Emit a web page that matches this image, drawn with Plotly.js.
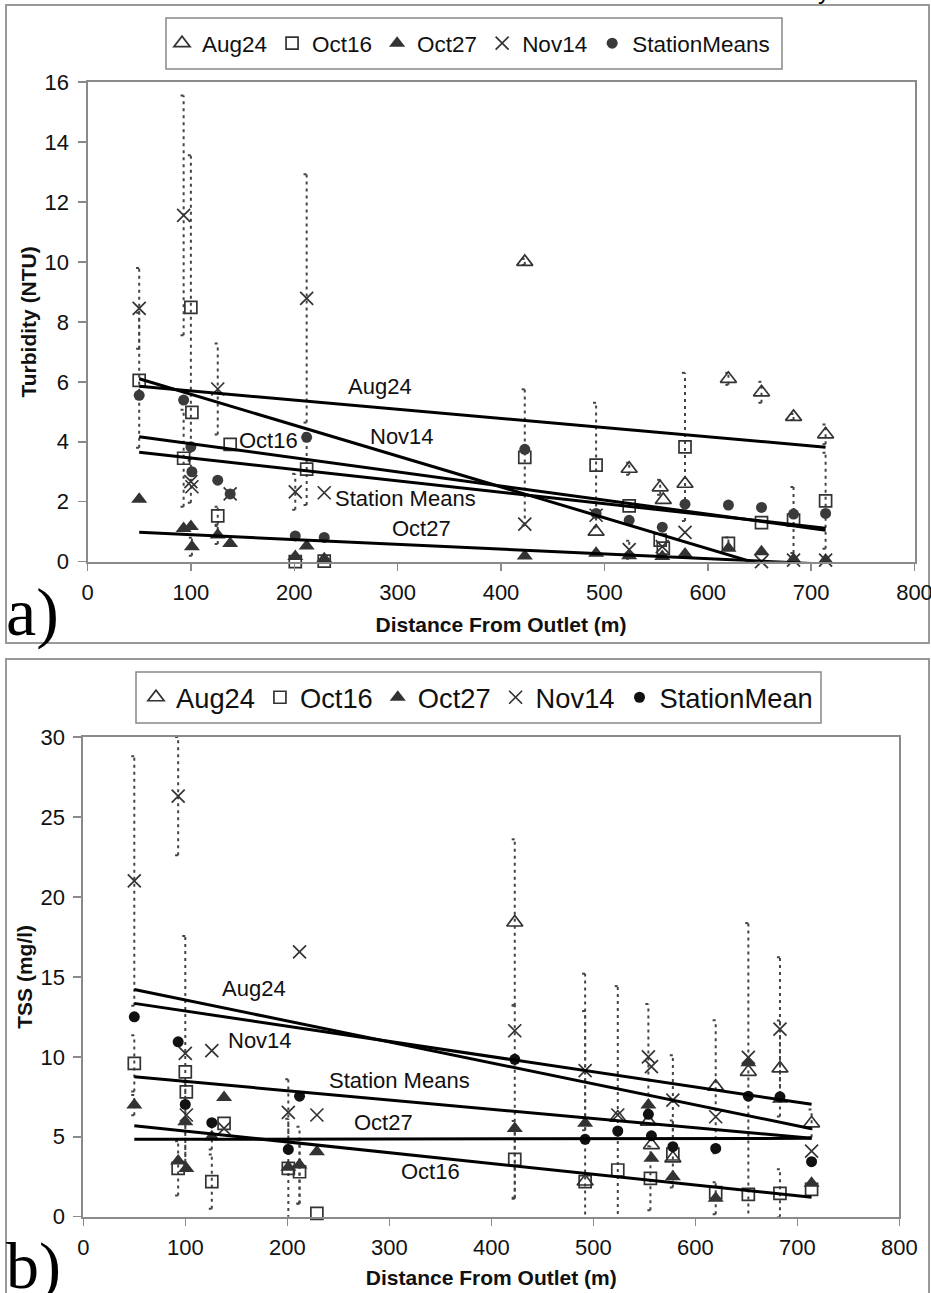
<!DOCTYPE html>
<html><head><meta charset="utf-8">
<script src="https://cdn.plot.ly/plotly-3.0.1.min.js"></script>
<style>html,body{margin:0;padding:0;background:#fff}#chart{width:931px;height:1293px}</style>
</head><body><div id="chart"></div>
<script>
// ================= Panel a: Turbidity (NTU) =================
const aAugX   = [423, 492, 524, 554, 557, 578, 620, 652, 683, 714];
const aAugY   = [10.0, 1.0, 3.1, 2.48, 2.06, 2.6, 6.1, 5.65, 4.83, 4.25];
const aAugErr = [0.1, 0, 0.2, 0.25, 0, 0, 0.2, 0.35, 0.1, 0.33];

const aOct16X   = [50, 93, 100, 101, 126, 138, 201, 212, 229, 423, 492, 524, 554, 557, 578, 620, 652, 683, 714];
const aOct16Y   = [6.05, 3.45, 8.48, 4.98, 1.53, 3.91, 0.0, 3.09, 0.02, 3.48, 3.22, 1.86, 0.72, 0.45, 3.83, 0.61, 1.3, 1.39, 2.03];
const aOct16Err = [2.25, 1.62, 5.08, 0, 0.3, 0, 0, 1.2, 0, 2.27, 2.08, 0, 0, 0, 2.47, 0.2, 0, 1.1, 1.6];

const aOct27X   = [50, 93, 100, 101, 126, 138, 201, 212, 229, 423, 492, 524, 556, 578, 620, 652, 683, 714];
const aOct27Y   = [2.08, 1.11, 1.17, 0.5, 0.89, 0.61, 0.17, 0.52, 0.1, 0.19, 0.28, 0.2, 0.17, 0.26, 0.45, 0.33, 0.08, 0.06];
const aOct27Err = [0, 0, 0, 0.3, 0.3, 0, 0, 0, 0, 0, 0, 0, 0, 0, 0, 0, 0, 0];

const aNov14X   = [50, 93, 100, 101, 126, 138, 201, 212, 229, 423, 492, 524, 556, 578, 652, 683, 714];
const aNov14Y   = [8.45, 11.55, 2.67, 2.5, 5.76, 2.26, 2.33, 8.78, 2.3, 1.25, 1.55, 0.4, 0.5, 0.98, 0.0, 0.05, 0.05];
const aNov14Err = [1.35, 4.0, 0.7, 0, 1.52, 0, 0.6, 4.14, 0, 0, 0, 0.3, 0, 0, 0, 0, 0];

const aMeanX = [50, 93, 100, 101, 126, 138, 201, 212, 229, 423, 492, 524, 556, 578, 620, 652, 683, 714];
const aMeanY = [5.55, 5.39, 3.83, 3.0, 2.72, 2.26, 0.86, 4.15, 0.81, 3.75, 1.61, 1.38, 1.15, 1.92, 1.89, 1.81, 1.59, 1.61];

// trendlines (value at start and end of station range)
const trendX = [50, 714];
const aTrendAug  = [5.85, 3.82];
const aTrendNov  = [6.10, -0.74];
const aTrendOct16 = [4.17, 1.05];
const aTrendMean = [3.65, 1.12];
const aTrendOct27 = [0.98, -0.08];
const aLabelText = ['Aug24', 'Nov14', 'Oct16', 'Station Means', 'Oct27'];
const aLabelX    = [283, 304, 175, 308, 323];
const aLabelY    = [5.83, 4.19, 4.03, 2.12, 1.11];

// ================= Panel b: TSS (mg/l) =================
const bAugX   = [423, 492, 524, 554, 557, 578, 620, 652, 683, 714];
const bAugY   = [18.4, 2.2, 6.2, 5.94, 4.48, 3.65, 8.13, 9.06, 9.27, 5.84];
const bAugErr = [5.2, 13.0, 0, 0, 0, 0, 4.16, 9.3, 3.0, 0.87];

const bOct16X   = [50, 93, 100, 101, 126, 138, 201, 212, 229, 423, 492, 524, 556, 578, 620, 652, 683, 714];
const bOct16Y   = [9.59, 3.02, 9.06, 7.81, 2.19, 5.84, 3.02, 2.81, 0.21, 3.59, 2.19, 2.92, 2.4, 3.92, 1.5, 1.4, 1.46, 1.71];
const bOct16Err = [1.76, 1.7, 0, 0, 1.7, 0, 3.1, 2.0, 0, 2.4, 0, 11.5, 2.0, 2.1, 0, 0, 1.5, 0];

const bOct27X   = [50, 93, 100, 101, 126, 138, 201, 212, 229, 423, 492, 554, 557, 578, 620, 652, 683, 714];
const bOct27Y   = [6.98, 3.48, 5.94, 3.02, 5.0, 7.46, 3.1, 3.23, 4.06, 5.52, 5.84, 6.98, 3.65, 2.5, 1.15, 9.63, 7.34, 2.09];
const bOct27Err = [0.63, 0, 2.5, 0, 0.8, 0, 0, 2.4, 0, 4.4, 0, 0, 0, 0, 1.0, 0, 0, 0];

const bNov14X   = [50, 93, 100, 101, 126, 138, 201, 212, 229, 423, 492, 524, 554, 557, 578, 620, 652, 683, 714];
const bNov14Y   = [21.0, 26.3, 10.21, 6.36, 10.38, 5.52, 6.52, 16.56, 6.36, 11.63, 9.13, 6.36, 10.0, 9.38, 7.29, 6.25, 9.96, 11.73, 4.1];
const bNov14Err = [7.8, 3.7, 7.35, 0, 0, 0, 2.07, 0, 0, 1.6, 3.73, 0, 3.3, 0, 2.8, 0, 0, 4.5, 0];

const bMeanX = [50, 93, 100, 126, 201, 212, 423, 492, 524, 554, 557, 578, 620, 652, 683, 714];
const bMeanY = [12.5, 10.94, 7.02, 5.88, 4.21, 7.54, 9.84, 4.84, 5.36, 6.4, 5.06, 4.38, 4.27, 7.54, 7.5, 3.44];

const bTrendAug  = [14.21, 5.50];
const bTrendNov  = [13.34, 7.03];
const bTrendMean = [8.75, 4.90];
const bTrendOct27 = [4.84, 4.90];
const bTrendOct16 = [5.69, 1.21];
const bLabelText = ['Aug24', 'Nov14', 'Station Means', 'Oct27', 'Oct16'];
const bLabelX    = [167, 173, 310, 294, 340];
const bLabelY    = [14.28, 11.04, 8.54, 5.88, 2.81];

const xTicks = [0, 100, 200, 300, 400, 500, 600, 700, 800];

// ================= drawing =================
const FONT = 'Liberation Sans, Arial, sans-serif';
const W = 931, H = 1293;
const px = v => v / W, py = v => 1 - v / H;
const MC = '#333333';

function errTrace(xs, ys, es, xa, ya) {
  const X = [], Y = [], cap = 3;
  xs.forEach((x, i) => {
    const e = es[i]; if (!e) return;
    const lo = ys[i] - e, hi = ys[i] + e;
    X.push(x, x, null, x - cap, x + cap, null, x - cap, x + cap, null);
    Y.push(lo, hi, null, hi, hi, null, lo, lo, null);
  });
  return {x: X, y: Y, xaxis: xa, yaxis: ya, mode: 'lines', showlegend: false, hoverinfo: 'skip',
          line: {color: '#444', width: 2, dash: '3px,4px'}};
}
function markTrace(name, xs, ys, symbol, size, xa, ya, legend, color) {
  const open = symbol.indexOf('open') >= 0;
  return {x: xs, y: ys, name: name, xaxis: xa, yaxis: ya, mode: 'markers', legend: legend, cliponaxis: false,
          marker: {symbol: symbol, size: size, color: color || MC, line: {color: color || MC, width: open ? 1.7 : 0}}};
}
function trendTrace(vals, xa, ya) {
  return {x: trendX, y: vals, xaxis: xa, yaxis: ya, mode: 'lines', showlegend: false, hoverinfo: 'skip',
          line: {color: '#000', width: 3}};
}

const data = [
  errTrace(aAugX, aAugY, aAugErr, 'x', 'y'),
  errTrace(aOct16X, aOct16Y, aOct16Err, 'x', 'y'),
  errTrace(aOct27X, aOct27Y, aOct27Err, 'x', 'y'),
  errTrace(aNov14X, aNov14Y, aNov14Err, 'x', 'y'),
  errTrace(bAugX, bAugY, bAugErr, 'x2', 'y2'),
  errTrace(bOct16X, bOct16Y, bOct16Err, 'x2', 'y2'),
  errTrace(bOct27X, bOct27Y, bOct27Err, 'x2', 'y2'),
  errTrace(bNov14X, bNov14Y, bNov14Err, 'x2', 'y2'),

  markTrace('Aug24', aAugX, aAugY, 'triangle-up-open', 14, 'x', 'y', 'legend'),
  markTrace('Oct16', aOct16X, aOct16Y, 'square-open', 12, 'x', 'y', 'legend'),
  markTrace('Oct27', aOct27X, aOct27Y, 'triangle-up', 14, 'x', 'y', 'legend'),
  markTrace('Nov14', aNov14X, aNov14Y, 'x-thin-open', 13, 'x', 'y', 'legend'),
  markTrace('StationMeans', aMeanX, aMeanY, 'circle', 11, 'x', 'y', 'legend', '#3a3a3a'),

  markTrace('Aug24', bAugX, bAugY, 'triangle-up-open', 14, 'x2', 'y2', 'legend2'),
  markTrace('Oct16', bOct16X, bOct16Y, 'square-open', 12, 'x2', 'y2', 'legend2'),
  markTrace('Oct27', bOct27X, bOct27Y, 'triangle-up', 14, 'x2', 'y2', 'legend2'),
  markTrace('Nov14', bNov14X, bNov14Y, 'x-thin-open', 13, 'x2', 'y2', 'legend2'),
  markTrace('StationMean', bMeanX, bMeanY, 'circle', 11, 'x2', 'y2', 'legend2', '#111'),

  trendTrace(aTrendAug, 'x', 'y'), trendTrace(aTrendNov, 'x', 'y'), trendTrace(aTrendOct16, 'x', 'y'),
  trendTrace(aTrendMean, 'x', 'y'), trendTrace(aTrendOct27, 'x', 'y'),
  trendTrace(bTrendAug, 'x2', 'y2'), trendTrace(bTrendNov, 'x2', 'y2'), trendTrace(bTrendMean, 'x2', 'y2'),
  trendTrace(bTrendOct27, 'x2', 'y2'), trendTrace(bTrendOct16, 'x2', 'y2')
];

const axBase = {showline: true, linecolor: '#8a8a8a', linewidth: 2, mirror: true, showgrid: false, zeroline: false,
  ticks: 'outside', tickcolor: '#8a8a8a', tickwidth: 1.5, ticklabeloverflow: 'allow',
  tickfont: {family: FONT, size: 22, color: '#111'}};
const titleFont = {family: FONT, size: 21, color: '#111', weight: 'bold'};

const annotations = [];
aLabelText.forEach((t, i) => annotations.push({xref: 'x', yref: 'y', x: aLabelX[i], y: aLabelY[i], text: t,
  showarrow: false, font: {family: FONT, size: 22, color: '#111'}}));
bLabelText.forEach((t, i) => annotations.push({xref: 'x2', yref: 'y2', x: bLabelX[i], y: bLabelY[i], text: t,
  showarrow: false, font: {family: FONT, size: 22, color: '#111'}}));
annotations.push({xref: 'paper', yref: 'paper', x: px(4), y: py(612), xanchor: 'left', yanchor: 'middle', text: 'a)',
  showarrow: false, font: {family: 'Liberation Serif, Times New Roman, serif', size: 68, color: '#000'}});
annotations.push({xref: 'paper', yref: 'paper', x: px(4), y: py(1266), xanchor: 'left', yanchor: 'middle', text: 'b)',
  showarrow: false, font: {family: 'Liberation Serif, Times New Roman, serif', size: 66, color: '#000'}});
annotations.push({xref: 'paper', yref: 'paper', x: px(824), y: py(6), xanchor: 'center', yanchor: 'bottom', text: 'y',
  showarrow: false, font: {family: FONT, size: 24, color: '#000'}});

const rect = (x0, y0, x1, y1, w, c) => ({type: 'rect', xref: 'paper', yref: 'paper', x0: px(x0), x1: px(x1), y0: py(y1), y1: py(y0),
  line: {color: c || '#999', width: w || 2}, fillcolor: 'rgba(0,0,0,0)', layer: 'below'});

const layout = {
  width: W, height: H, margin: {l: 0, r: 0, t: 0, b: 0}, paper_bgcolor: '#fff', plot_bgcolor: 'rgba(0,0,0,0)',
  font: {family: FONT, color: '#111'},
  xaxis: Object.assign({}, axBase, {domain: [px(87.5), px(914.5)], range: [0, 800], tickvals: xTicks, anchor: 'y',
    ticklen: 7, ticklabelstandoff: 3, title: {text: 'Distance From Outlet (m)', font: titleFont, standoff: 13}}),
  yaxis: Object.assign({}, axBase, {domain: [py(561.7), py(82)], range: [0, 16], dtick: 2, anchor: 'x',
    ticklen: 8, ticklabelstandoff: 4, title: {text: 'Turbidity (NTU)', font: titleFont, standoff: 2}}),
  xaxis2: Object.assign({}, axBase, {domain: [px(83.3), px(899.3)], range: [0, 800], tickvals: xTicks, anchor: 'y2',
    ticklen: 7, ticklabelstandoff: 3, title: {text: 'Distance From Outlet (m)', font: titleFont, standoff: 11}}),
  yaxis2: Object.assign({}, axBase, {domain: [py(1216.7), py(737)], range: [0, 30], dtick: 5, anchor: 'x2',
    ticklen: 8, ticklabelstandoff: 4, title: {text: 'TSS (mg/l)', font: titleFont, standoff: 2}}),
  legend: {orientation: 'h', x: px(162), xanchor: 'left', y: py(43.5), yanchor: 'middle', bgcolor: 'rgba(0,0,0,0)',
    borderwidth: 0, font: {family: FONT, size: 22.5, color: '#111'}},
  legend2: {orientation: 'h', x: px(136), xanchor: 'left', y: py(697.5), yanchor: 'middle', bgcolor: 'rgba(0,0,0,0)',
    borderwidth: 0, font: {family: FONT, size: 27.3, color: '#111'}},
  shapes: [
    rect(6, 5, 929, 643, 2, '#999'),
    rect(6, 659, 929, 1310, 2, '#999'),
    rect(166, 18, 782, 69, 1.5, '#888'),
    rect(136, 672, 821, 723, 1.5, '#888')
  ],
  annotations: annotations
};

Plotly.newPlot('chart', data, layout, {displayModeBar: false, staticPlot: true});
</script>
</body></html>
